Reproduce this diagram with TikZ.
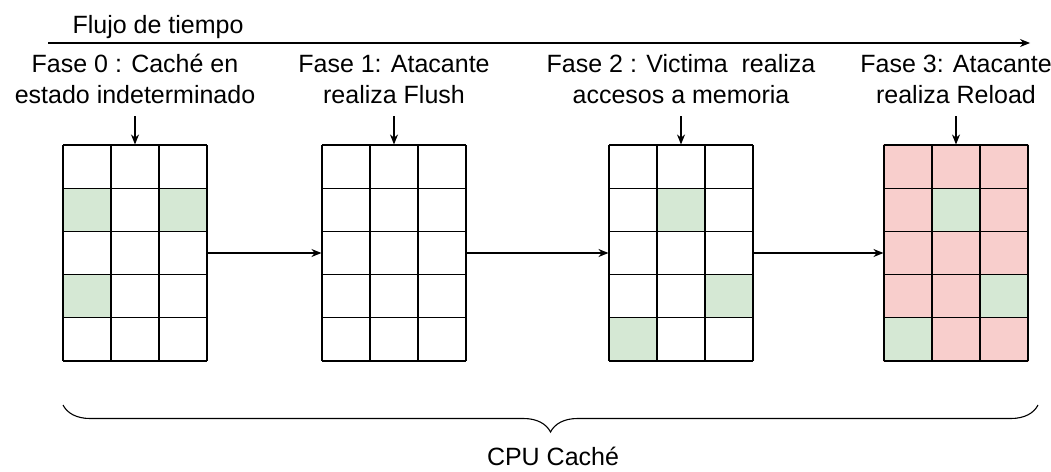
\documentclass[tikz,border=0pt]{standalone}
\usepackage{fontspec}
\setmainfont{Liberation Sans}
\usetikzlibrary{arrows.meta,decorations.pathreplacing}

\definecolor{verde}{HTML}{D5E8D4}
\definecolor{rojo}{HTML}{F8CECC}

\begin{document}
\begin{tikzpicture}[x=1pt,y=-1pt,line width=1.1pt,
  flecha/.style={-{Stealth[length=10pt,width=8pt]}},
  fase/.style={align=center,anchor=base,inner sep=0pt,font=\fontsize{25}{31}\selectfont},
  cache/.style={minimum width=144pt,minimum height=216pt,inner sep=0pt}]
  \useasboundingbox (0,0) rectangle (1051,471);

  % eje del tiempo
  \node[anchor=base west,inner sep=0pt,font=\fontsize{25}{30}\selectfont] (flujo) at (72,33) {Flujo de tiempo};
  \coordinate (t0) at (48,43);
  \coordinate (t1) at (1030,43);
  \draw[flecha] (t0) -- (t1);

  % fases
  \node[fase] (f0) at (135,103) {Fase 0 : Caché en\\estado indeterminado};
  \node[fase] (f1) at (394,103) {Fase 1: Atacante\\realiza Flush};
  \node[fase] (f2) at (681,103) {Fase 2 : Victima~ realiza\\accesos a memoria};
  \node[fase] (f3) at (956,103) {Fase 3: Atacante\\realiza Reload};

  % caches (5 filas x 3 columnas)
  \node[cache] (c0) at (135,253) {};
  \node[cache] (c1) at (394,253) {};
  \node[cache] (c2) at (681,253) {};
  \node[cache] (c3) at (956,253) {};

  \fill[rojo] (c3.north west) rectangle (c3.south east);
  \foreach \gx/\c/\r in {63/0/1,63/2/1,63/0/3,609/1/1,609/2/3,609/0/4,884/1/1,884/2/3,884/0/4}
    \fill[verde] ({\gx+48*\c},{145+43.2*\r}) rectangle +(48,43.2);
  \foreach \gx in {63,322,609,884} {
    \foreach \i in {0,...,3}
      \draw ({\gx+48*\i},145) -- +(0,216);
    \foreach \j in {0,...,5}
      \draw (\gx,{145+43.2*\j}) -- +(144,0);
  }

  % flechas
  \foreach \n in {0,...,3}
    \draw[flecha] ([yshift=28pt]c\n.north) -- (c\n.north);
  \draw[flecha] (c0.east) -- (c1.west);
  \draw[flecha] (c1.east) -- (c2.west);
  \draw[flecha] (c2.east) -- (c3.west);

  % llave
  \coordinate (b0) at (63,405);
  \coordinate (b1) at (1038,405);
  \draw[decorate,decoration={brace,mirror,amplitude=27pt}] (b0) -- (b1);
  \node[anchor=base,inner sep=0pt,font=\fontsize{25}{30}\selectfont] (cpu) at (553,465) {CPU Caché};
\end{tikzpicture}
\end{document}
